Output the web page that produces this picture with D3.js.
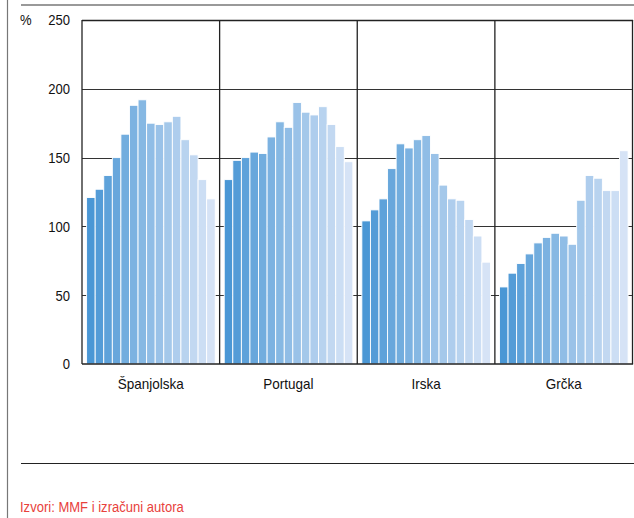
<!DOCTYPE html>
<html><head><meta charset="utf-8">
<script src="https://cdn.jsdelivr.net/npm/d3@7"></script>
<style>
html,body{margin:0;padding:0;background:#fff;}
svg{display:block;font-family:"Liberation Sans",Arial,sans-serif;}
</style></head>
<body>
<svg id="c" width="634" height="518"></svg>
<script>
const categories = ["Španjolska","Portugal","Irska","Grčka"];
const spain    = [121,127,137,150,167,188,192,175,174,176,180,163,152,134,120];
const portugal = [134,148,150,154,153,165,176,172,190,183,181,187,174,158,147];
const ireland  = [104,112,120,142,160,157,163,166,153,130,120,119,105,93,74];
const greece   = [56,66,73,80,88,92,95,93,87,119,137,135,126,126,155];
const seriesByCategory = [spain, portugal, ireland, greece];
const yTicks = [0,50,100,150,200,250];
const unitLabel = "%";
const sourceText = "Izvori: MMF i izračuni autora";

const svg = d3.select("#c");
const L = 82, R = 632.5, T = 20, B = 364;
const SX = 0.87; // condensed look

const x0 = d3.scaleBand().domain(categories).range([L, R]).paddingInner(0).paddingOuter(0);
const x1 = d3.scaleBand().domain(d3.range(spain.length)).range([4.6, x0.bandwidth() - 4.4]).padding(0);
const y = d3.scaleLinear().domain([0, 250]).range([B, T]);
const color = d3.scaleLinear().domain([0, spain.length - 1]).range(["#4a97d5", "#d6e3f6"]).interpolate(d3.interpolateRgb);

// frame
svg.append("line").attr("x1", 7.5).attr("x2", 7.5).attr("y1", 0).attr("y2", 518).attr("stroke", "#777").attr("stroke-width", 1.2);
svg.append("line").attr("x1", 21).attr("x2", 634).attr("y1", 5).attr("y2", 5).attr("stroke", "#777").attr("stroke-width", 1.5);
svg.append("line").attr("x1", 21).attr("x2", 634).attr("y1", 463.5).attr("y2", 463.5).attr("stroke", "#222").attr("stroke-width", 1);

// gridlines
svg.append("g").selectAll("line").data(yTicks.filter(d => d > 0 && d < 250)).join("line")
  .attr("x1", L).attr("x2", R)
  .attr("y1", d => Math.round(y(d)) + 0.5).attr("y2", d => Math.round(y(d)) + 0.5)
  .attr("stroke", "#333").attr("stroke-width", 1);

// bars
const groups = svg.append("g").selectAll("g").data(categories).join("g")
  .attr("transform", d => `translate(${x0(d)},0)`);
groups.selectAll("rect").data((d, i) => seriesByCategory[i].map((v, j) => ({v, j}))).join("rect")
  .attr("x", d => x1(d.j))
  .attr("width", x1.bandwidth())
  .attr("y", d => y(d.v))
  .attr("height", d => B - y(d.v))
  .attr("fill", d => color(d.j))
  .attr("stroke", "#fff").attr("stroke-width", 0.9);

// dividers and border
const dividers = categories.map(c => x0(c)).concat([R]);
svg.append("g").selectAll("line").data(dividers).join("line")
  .attr("x1", d => d).attr("x2", d => d).attr("y1", T).attr("y2", B)
  .attr("stroke", "#222").attr("stroke-width", 1.3);
svg.append("line").attr("x1", L).attr("x2", R + 0.6).attr("y1", T + 0.5).attr("y2", T + 0.5).attr("stroke", "#222").attr("stroke-width", 1.3);
svg.append("line").attr("x1", L).attr("x2", R + 0.6).attr("y1", B).attr("y2", B).attr("stroke", "#222").attr("stroke-width", 1.6);

// y tick labels
svg.append("g").selectAll("text").data(yTicks).join("text")
  .attr("transform", d => `translate(70,${y(d)}) scale(${SX},1)`).attr("dy", "0.36em")
  .attr("text-anchor", "end").attr("font-size", 15).attr("fill", "#111")
  .text(d => d);
svg.append("text").attr("transform", `translate(20,${T}) scale(${SX},1)`).attr("dy", "0.36em")
  .attr("font-size", 15).attr("fill", "#111").text(unitLabel);

// category labels
svg.append("g").selectAll("text").data(categories).join("text")
  .attr("transform", d => `translate(${x0(d) + x0.bandwidth() / 2},389) scale(0.9,1)`)
  .attr("text-anchor", "middle").attr("font-size", 15).attr("fill", "#111")
  .text(d => d);

// source
svg.append("text").attr("transform", `translate(20,512) scale(${SX},1)`)
  .attr("font-size", 15).attr("fill", "#e8413c").text(sourceText);
</script>
</body></html>
